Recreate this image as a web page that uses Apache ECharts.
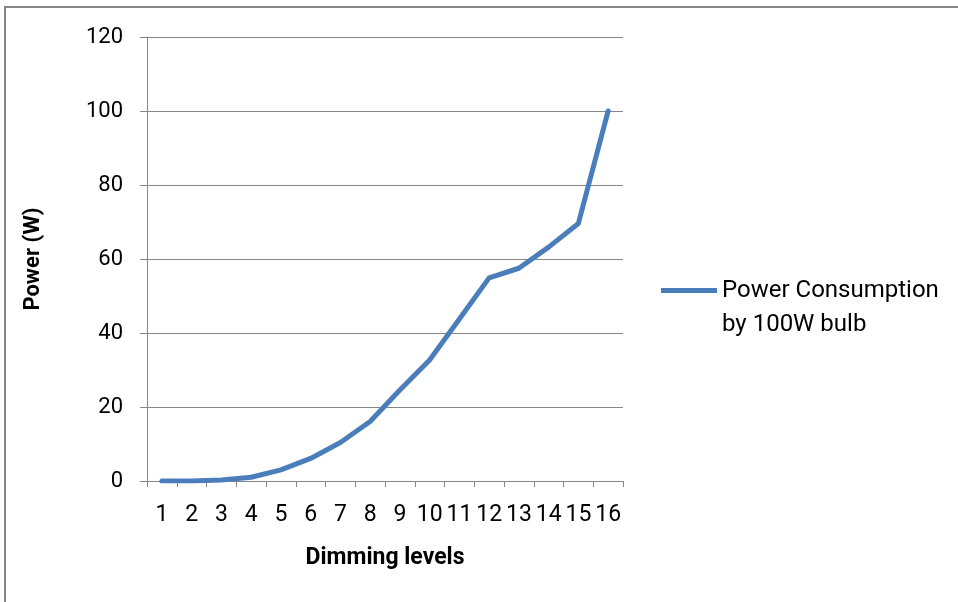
<!DOCTYPE html>
<html>
<head>
<meta charset="utf-8">
<script src="https://cdn.jsdelivr.net/npm/echarts@6/dist/echarts.min.js"></script>
<style>
  html, body { margin: 0; padding: 0; background: #fff; }
  #chart { width: 958px; height: 602px; }
</style>
</head>
<body>
<div id="chart"></div>
<script>
// Dimming levels 1..16 and measured power draw of a 100 W bulb
const levels = ['1','2','3','4','5','6','7','8','9','10','11','12','13','14','15','16'];
const powerWatts = [0, 0, 0.3, 1, 3, 6.1, 10.4, 16.1, 24.6, 32.7, 43.8, 54.9, 57.5, 63.2, 69.6, 100];
const seriesName = 'Power Consumption\nby 100W bulb';
const yTicks = { min: 0, max: 120, interval: 20 };

const FONT = 'Roboto';
const axisGrey = '#868686';
const lineBlue = '#4A7EBB';

// Legend key: a bar along the top plus an empty point below it, so the
// key sits level with the first line of the two-line legend label.
const legendKey = 'path://M0,0H56V5H0Z M0,40H0.001V40H0Z';

const chart = echarts.init(document.getElementById('chart'), null, { renderer: 'canvas' });
chart.setOption({
  animation: false,
  backgroundColor: '#ffffff',
  graphic: [{
    type: 'rect',
    shape: { x: 5, y: 7, width: 1000, height: 700 },
    style: { fill: 'none', stroke: axisGrey, lineWidth: 2 },
    silent: true
  }],
  grid: { left: 147, right: 335, top: 37, bottom: 121 },
  legend: {
    data: [{ name: seriesName, icon: legendKey, itemStyle: { color: lineBlue, borderWidth: 0 } }],
    left: 661,
    top: 274,
    padding: 0,
    itemWidth: 56,
    itemHeight: 40,
    itemGap: 4,
    textStyle: {
      fontFamily: FONT,
      fontSize: 24,
      color: '#000',
      lineHeight: 34
    }
  },
  xAxis: {
    type: 'category',
    data: levels,
    boundaryGap: true,
    name: 'Dimming levels',
    nameLocation: 'middle',
    nameGap: 66,
    nameTextStyle: { fontFamily: FONT, fontSize: 23, fontWeight: 'bold', color: '#000' },
    axisLine: { lineStyle: { color: axisGrey, width: 1 } },
    axisTick: { show: true, alignWithLabel: false, length: 6, lineStyle: { color: axisGrey } },
    axisLabel: { fontFamily: FONT, fontSize: 23, color: '#000', margin: 23, interval: 0 },
    splitLine: { show: false }
  },
  yAxis: {
    type: 'value',
    min: yTicks.min,
    max: yTicks.max,
    interval: yTicks.interval,
    name: 'Power (W)',
    nameLocation: 'middle',
    nameRotate: 90,
    nameGap: 103,
    nameTextStyle: { fontFamily: FONT, fontSize: 22, fontWeight: 'bold', color: '#000' },
    axisLine: { show: true, lineStyle: { color: axisGrey, width: 1 } },
    axisTick: { show: true, length: 7, lineStyle: { color: axisGrey } },
    axisLabel: { fontFamily: FONT, fontSize: 22, color: '#000', margin: 24 },
    splitLine: { show: true, lineStyle: { color: axisGrey, width: 1 } }
  },
  series: [{
    name: seriesName,
    type: 'line',
    data: powerWatts,
    symbol: 'none',
    smooth: false,
    lineStyle: { color: lineBlue, width: 5, cap: 'round', join: 'round' },
    itemStyle: { color: lineBlue }
  }]
});
</script>
</body>
</html>
